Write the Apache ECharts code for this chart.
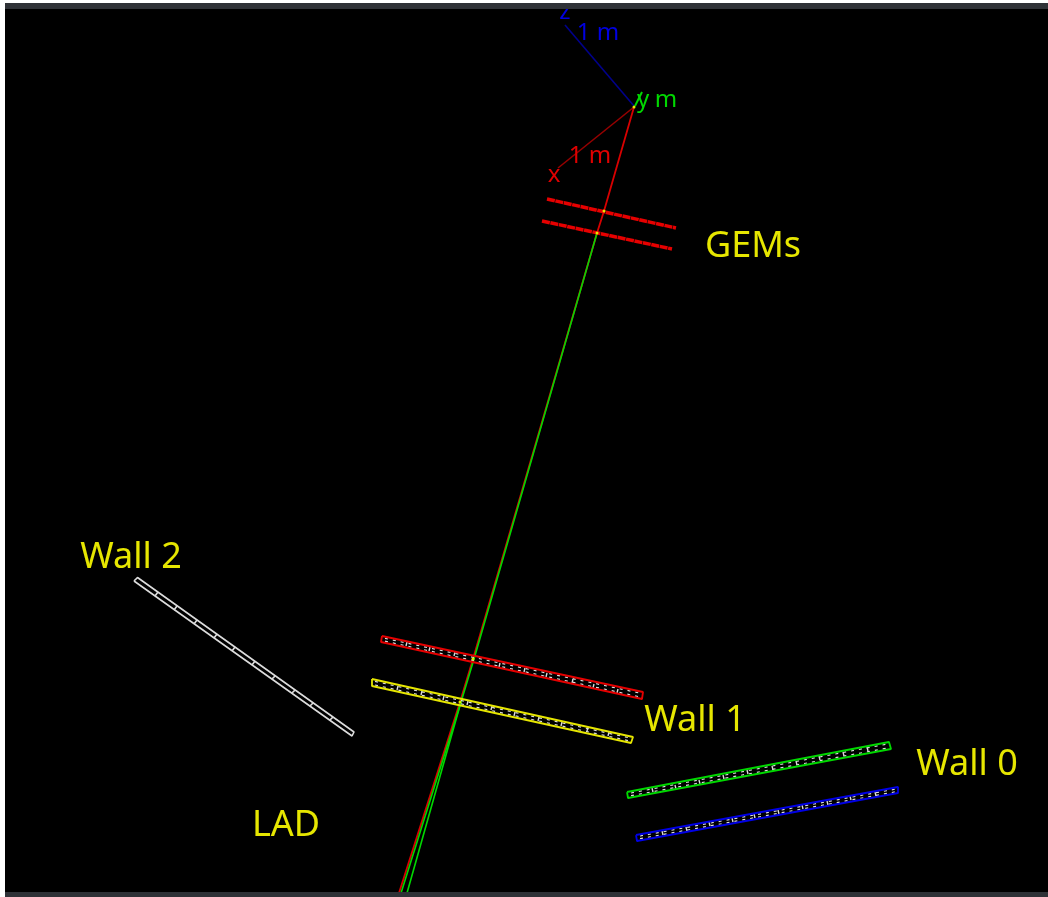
<!DOCTYPE html>
<html>
<head>
<meta charset="utf-8" />
<title>LAD event display</title>
<style>
  html, body { margin: 0; padding: 0; background: #fff; }
  #main { width: 1048px; height: 897px; }
</style>
<script src="https://cdn.jsdelivr.net/npm/echarts@6/dist/echarts.min.js"></script>
</head>
<body>
<div id="main"></div>
<script>
const zAxisLine = [[634, 106], [565, 25]];
const xAxisLine = [[634, 107], [558, 168]];
const yAxisLine = [[635, 106], [642, 92]];

const trackRed = [[634, 107], [604, 211], [597, 233], [473, 659], [460, 702], [399, 893]];
const trackGreenA = [[597, 233], [474, 659], [461, 702], [407, 893]];
const trackGreenB = [[461, 702], [401, 893]];

const gemUpper = [[547, 199], [676, 228]];
const gemLower = [[542, 221], [672, 249]];
const hitPoints = [[634, 107], [604, 211], [597, 233], [473, 659], [460, 702]];

const wallRedOutline = [[382, 636], [643, 692], [642, 699], [381, 642], [382, 636]];
const wallRedInner = [[385, 638.4], [640, 693.1], null, [385, 641.2], [640, 696.9]];
const wallRedBars = [
  [407, 642], [406, 646], null, [430, 647], [429, 651], null, [455, 652], [454, 656], null,
  [500, 663], [499, 667], null, [525, 668], [524, 672], null, [547, 673], [546, 677], null,
  [573, 679], [572, 683], null, [594, 684], [593, 688], null, [618, 689], [617, 693]
];

const wallYellowOutline = [[372, 679], [633, 737], [631, 743], [372, 686], [372, 679]];
const wallYellowInner = [[375, 681.4], [630, 738], null, [375, 685], [630, 741]];
const wallYellowBars = [
  [398, 686], [397, 690], null, [422, 691], [421, 695], null, [444, 696], [443, 700], null,
  [468, 701], [467, 705], null, [492, 706], [491, 710], null, [515, 712], [514, 716], null,
  [539, 717], [538, 721], null, [562, 722], [561, 726], null, [588, 727], [587, 731], null,
  [609, 732], [608, 736]
];

const wallGreenOutline = [[627, 792], [889, 742], [891, 749], [628, 798], [627, 792]];
const wallGreenInner = [[631, 793], [887, 744.1], null, [631, 795.7], [887, 748.1]];
const wallGreenBars = [
  [652, 788], [653, 792], null, [675, 785], [676, 789], null, [699, 780], [700, 784], null,
  [723, 775], [724, 779], null, [747, 770], [748, 774], null, [772, 766], [773, 770], null,
  [796, 761], [797, 765], null, [819, 756], [820, 760], null, [843, 752], [844, 756], null,
  [867, 747], [868, 751]
];

const wallBlueOutline = [[636, 835], [898, 787], [898, 793], [637, 841], [636, 835]];
const wallBlueInner = [[640, 836], [895, 789.2], null, [640, 838.7], [895, 791.9]];
const wallBlueBars = [
  [662, 831], [663, 835], null, [686, 827], [687, 831], null, [709, 822], [710, 826], null,
  [732, 818], [733, 822], null, [754, 814], [755, 818], null, [778, 810], [779, 814], null,
  [802, 805], [803, 809], null, [827, 801], [828, 805], null, [850, 796], [851, 800], null,
  [875, 792], [876, 796]
];

const wallWhiteOutline = [[134, 581], [137.5, 577.5], [354, 732], [352, 736], [134, 581]];
const wallWhiteBars = [
  [158, 592], [155, 596], null, [177, 606], [174, 610], null, [197, 620], [194, 624], null,
  [217, 634], [214, 638], null, [235, 647], [232, 651], null, [255, 661], [252, 665], null,
  [275, 676], [272, 679], null, [295, 690], [292, 693], null, [313, 703], [310, 706], null,
  [333, 717], [330, 720]
];

const yellowLabels = ["GEMs", "Wall 2", "Wall 1", "Wall 0", "LAD"];
const yellowLabelPoints = [[753, 247], [131, 558], [695, 721], [967, 765], [286, 826]];
const blueLabels = ["z", "1 m"];
const blueLabelPoints = [[565, 12], [598, 33]];
const greenLabels = ["y", "m"];
const greenLabelPoints = [[643, 100], [666, 100]];
const redLabels = ["x", "1 m"];
const redLabelPoints = [[554, 175], [590, 156]];

const YELLOW = "#e6e600";
const RED = "#e60000";
const GREEN = "#00d800";
const BLUE = "#0000e6";
const WHITE = "#dcdcdc";

function path(data, color, width, type) {
  return {
    type: "line",
    data: data,
    showSymbol: false,
    connectNulls: false,
    lineStyle: { color: color, width: width, type: type || "solid" },
  };
}

function labels(names, points, color, size) {
  return {
    type: "scatter",
    symbolSize: 0,
    data: points.map((p, i) => ({ name: names[i], value: p })),
    itemStyle: { opacity: 1 },
    label: {
      show: true,
      position: "inside",
      formatter: "{b}",
      color: color,
      fontSize: size,
      fontFamily: "Noto Sans",
    },
    z: 3,
  };
}

const chart = echarts.init(document.getElementById("main"));

chart.setOption({
  animation: false,
  backgroundColor: "#000",
  grid: { left: 0, right: 0, top: 0, bottom: 0 },
  xAxis: { type: "value", min: 0, max: 1048, show: false },
  yAxis: { type: "value", min: 0, max: 897, inverse: true, show: false },
  series: [
    path(zAxisLine, "#00008b", 1.6),
    path(xAxisLine, "#960000", 1.6),
    path(yAxisLine, GREEN, 2),
    path(trackRed, "#d80000", 1.8),
    path(trackGreenA, GREEN, 1.6),
    path(trackGreenB, GREEN, 1.6),
    path(gemUpper, RED, 3.5, [8, 0.6]),
    path(gemLower, RED, 3.5, [8, 0.6]),
    path(wallWhiteOutline, WHITE, 1.6),
    path(wallWhiteBars, WHITE, 1.6),
    path(wallRedInner, WHITE, 1.2, [3, 5]),
    path(wallRedBars, WHITE, 1.4),
    path(wallRedOutline, RED, 1.8),
    path(wallYellowInner, WHITE, 1.2, [3, 5]),
    path(wallYellowBars, WHITE, 1.4),
    path(wallYellowOutline, YELLOW, 1.8),
    path(wallGreenInner, WHITE, 1.2, [3, 5]),
    path(wallGreenBars, WHITE, 1.4),
    path(wallGreenOutline, GREEN, 1.8),
    path(wallBlueInner, WHITE, 1.2, [3, 5]),
    path(wallBlueBars, WHITE, 1.4),
    path(wallBlueOutline, BLUE, 1.8),
    {
      type: "scatter",
      symbolSize: 3,
      data: hitPoints,
      itemStyle: { color: YELLOW, opacity: 1 },
      z: 3,
    },
    labels(yellowLabels, yellowLabelPoints, YELLOW, 36),
    labels(blueLabels, blueLabelPoints, "#0000e0", 24),
    labels(greenLabels, greenLabelPoints, GREEN, 24),
    labels(redLabels, redLabelPoints, "#e00000", 24),
  ],
  // window frame around the black view
  graphic: [
    { type: "rect", z: 100, shape: { x: 0, y: 0, width: 1048, height: 3 }, style: { fill: "#fff" } },
    { type: "rect", z: 100, shape: { x: 0, y: 3, width: 1048, height: 6 }, style: { fill: "#2f3237" } },
    { type: "rect", z: 100, shape: { x: 0, y: 0, width: 5, height: 897 }, style: { fill: "#fff" } },
    { type: "rect", z: 100, shape: { x: 5, y: 892, width: 1043, height: 5 }, style: { fill: "#2f3237" } },
  ],
});
</script>
</body>
</html>
